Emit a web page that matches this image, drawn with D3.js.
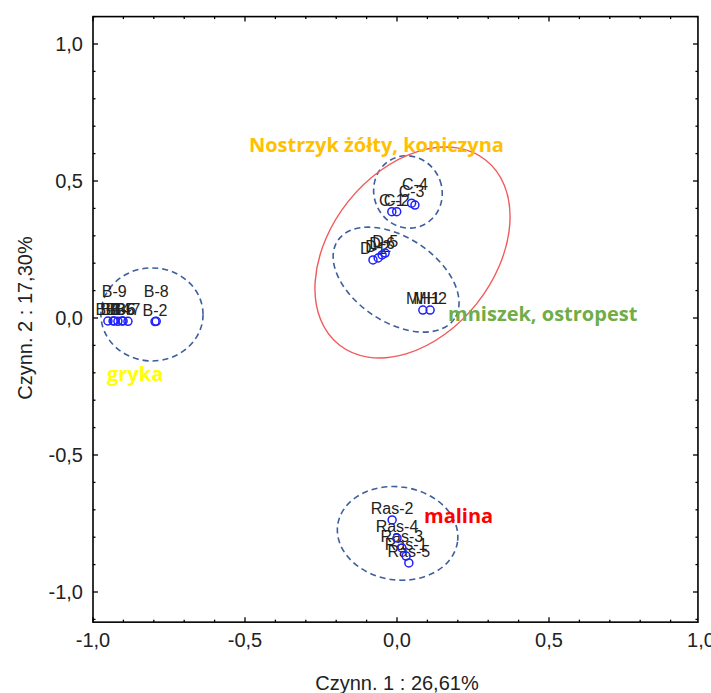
<!DOCTYPE html>
<html>
<head>
<meta charset="utf-8">
<script src="https://cdn.jsdelivr.net/npm/d3@7"></script>
<style>
  body { margin: 0; background: #fff; }
</style>
</head>
<body>
<script>
// punkty (Czynn. 1, Czynn. 2)
var pointNames = ["B-1", "B-3", "B-4", "B-5", "B-6", "B-7", "B-9", "B-2", "B-8",
  "C-1", "C-2", "C-3", "C-4",
  "D-1", "D-2", "D-6", "D-5",
  "MH1", "MH2",
  "Ras-2", "Ras-4", "Ras-3", "Ras-1", "Ras-5"];
var pointX = [-0.951, -0.934, -0.918, -0.905, -0.901, -0.885, -0.930, -0.796, -0.792,
  -0.017, -0.001, 0.048, 0.059,
  -0.079, -0.062, -0.049, -0.039,
  0.085, 0.109,
  -0.016, 0.000, 0.016, 0.030, 0.039];
var pointY = [-0.011, -0.011, -0.012, -0.011, -0.011, -0.012, -0.011, -0.013, -0.012,
  0.388, 0.388, 0.419, 0.412,
  0.212, 0.219, 0.230, 0.237,
  0.029, 0.029,
  -0.737, -0.803, -0.839, -0.869, -0.894];
// etykiety przesuniete do gory (px)
var labelLift = { "B-9": 18, "B-8": 18, "C-4": 9 };

// elipsy grup
var ellipseCx = [-0.806, 0.036, -0.003, 0.002, 0.051];
var ellipseCy = [0.013, 0.460, 0.140, -0.786, 0.239];
var ellipseRx = [0.168, 0.112, 0.231, 0.199, 0.388];
var ellipseRy = [0.153, 0.120, 0.139, 0.153, 0.270];
var ellipseAngle = [0, -20, 33.7, 8, -51.5];
var ellipseSolid = [false, false, false, false, true];

// opisy grup
var groupNames = ["Nostrzyk żółty, koniczyna", "mniszek, ostropest", "gryka", "malina"];
var groupX = [-0.487, 0.168, -0.954, 0.089];
var groupY = [0.606, -0.010, -0.230, -0.748];
var groupColors = ["#ffc000", "#70ad47", "#ffff00", "#ff0000"];

var labelTicks = [-1, -0.5, 0, 0.5, 1];
var minorTicks = d3.range(-11, 12).map(function (d) { return d / 10; });

(function () {
  var W = 711, H = 693;
  var x = d3.scaleLinear().domain([-1, 1]).range([93, 701]);
  var y = d3.scaleLinear().domain([-1, 1]).range([592, 44]);
  var xMin = -1, xMax = 0.99, yMin = -1.11, yMax = 1.1;

  var svg = d3.select("body").append("svg")
    .attr("width", W).attr("height", H)
    .style("display", "block")
    .style("font-family", "'Liberation Sans', Arial, sans-serif");

  var fmt = function (d) { return d.toFixed(1).replace(".", ","); };
  var fLeft = x(xMin), fRight = x(xMax), fTop = y(yMax), fBottom = y(yMin);

  // ellipses
  var unit = x(1) - x(0);
  svg.append("g").selectAll("ellipse").data(ellipseCx).join("ellipse")
    .attr("transform", function (d, i) {
      return "translate(" + x(d) + "," + y(ellipseCy[i]) + ") rotate(" + ellipseAngle[i] + ")";
    })
    .attr("rx", function (d, i) { return ellipseRx[i] * unit; })
    .attr("ry", function (d, i) { return ellipseRy[i] * unit; })
    .attr("fill", "none")
    .attr("stroke", function (d, i) { return ellipseSolid[i] ? "#f25a5a" : "#3d5f9c"; })
    .attr("stroke-width", function (d, i) { return ellipseSolid[i] ? 1.4 : 1.6; })
    .attr("stroke-dasharray", function (d, i) { return ellipseSolid[i] ? null : "6,4"; });

  // point labels
  svg.append("g").selectAll("text").data(pointNames).join("text")
    .attr("x", function (d, i) { return x(pointX[i]); })
    .attr("y", function (d, i) { return y(pointY[i]) - 6 - (labelLift[d] || 0); })
    .attr("text-anchor", "middle")
    .attr("font-size", 16)
    .attr("fill", "#222")
    .text(function (d) { return d; });

  // points
  svg.append("g").selectAll("circle").data(pointX).join("circle")
    .attr("cx", function (d) { return x(d); })
    .attr("cy", function (d, i) { return y(pointY[i]); })
    .attr("r", 4)
    .attr("fill", "none")
    .attr("stroke", "#1f1fff")
    .attr("stroke-width", 1.5);

  // group names
  svg.append("g").selectAll("text").data(groupNames).join("text")
    .attr("x", function (d, i) { return x(groupX[i]); })
    .attr("y", function (d, i) { return y(groupY[i]); })
    .attr("font-family", "'Open Sans', Lato, sans-serif")
    .attr("font-weight", "bold")
    .attr("font-size", 20)
    .attr("fill", function (d, i) { return groupColors[i]; })
    .text(function (d) { return d; });

  // ticks on all four sides
  var tickLen = function (d) { return Math.abs(d * 2 - Math.round(d * 2)) < 1e-6 ? 5 : 2.5; };
  var xt = minorTicks.filter(function (d) { return d >= xMin && d <= xMax; });
  var yt = minorTicks.filter(function (d) { return d >= yMin && d <= yMax; });
  var tk = svg.append("g").attr("stroke", "#000").attr("stroke-width", 1.3);
  tk.selectAll(".tb").data(xt).join("line").attr("class", "tb")
    .attr("x1", x).attr("x2", x)
    .attr("y1", fBottom).attr("y2", function (d) { return fBottom - tickLen(d); });
  tk.selectAll(".tt").data(xt).join("line").attr("class", "tt")
    .attr("x1", x).attr("x2", x)
    .attr("y1", fTop).attr("y2", function (d) { return fTop + tickLen(d); });
  tk.selectAll(".tl").data(yt).join("line").attr("class", "tl")
    .attr("y1", y).attr("y2", y)
    .attr("x1", fLeft).attr("x2", function (d) { return fLeft + tickLen(d); });
  tk.selectAll(".tr").data(yt).join("line").attr("class", "tr")
    .attr("y1", y).attr("y2", y)
    .attr("x1", fRight).attr("x2", function (d) { return fRight - tickLen(d); });

  // frame
  svg.append("rect")
    .attr("x", fLeft).attr("y", fTop)
    .attr("width", fRight - fLeft).attr("height", fBottom - fTop)
    .attr("fill", "none").attr("stroke", "#000").attr("stroke-width", 1.6);

  // tick labels
  svg.append("g").selectAll("text").data(labelTicks).join("text")
    .attr("x", x)
    .attr("y", fBottom + 25)
    .attr("text-anchor", "middle")
    .attr("font-size", 20)
    .attr("fill", "#222")
    .text(fmt);
  svg.append("g").selectAll("text").data(labelTicks).join("text")
    .attr("x", fLeft - 10)
    .attr("y", function (d) { return y(d) + 7; })
    .attr("text-anchor", "end")
    .attr("font-size", 20)
    .attr("fill", "#222")
    .text(fmt);

  // axis titles
  svg.append("text")
    .attr("x", x(0)).attr("y", 690)
    .attr("text-anchor", "middle")
    .attr("font-size", 20)
    .attr("fill", "#222")
    .text("Czynn. 1 : 26,61%");
  svg.append("text")
    .attr("transform", "translate(32," + y(0) + ") rotate(-90)")
    .attr("text-anchor", "middle")
    .attr("font-size", 20)
    .attr("fill", "#222")
    .text("Czynn. 2 : 17,30%");
}());
</script>
</body>
</html>
